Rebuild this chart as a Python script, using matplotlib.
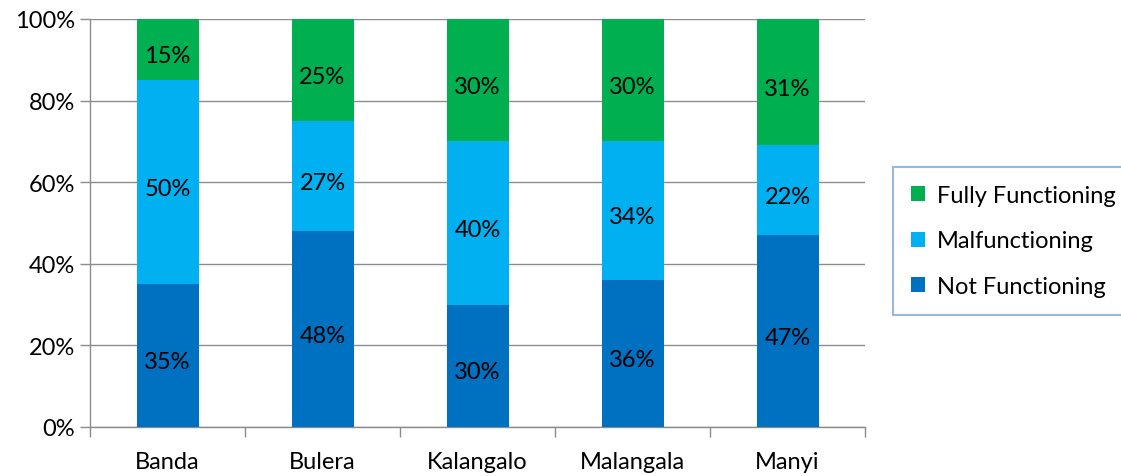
import matplotlib.pyplot as plt
import numpy as np

sites = ['Banda', 'Bulera', 'Kalangalo', 'Malangala', 'Manyi']
not_functioning = [35, 48, 30, 36, 47]
malfunctioning = [50, 27, 40, 34, 22]
fully_functioning = [15, 25, 30, 30, 31]

plt.rcParams['font.family'] = ['Lato', 'DejaVu Sans']
FS = 17

fig = plt.figure(figsize=(11.21, 4.77), dpi=100)
ax = fig.add_axes([90 / 1121, 1 - 428 / 477, 775 / 1121, 408 / 477])

x = np.arange(len(sites))
w = 0.4
series = [
    (not_functioning, '#0070C0', 'Not Functioning'),
    (malfunctioning, '#00B0F0', 'Malfunctioning'),
    (fully_functioning, '#00B050', 'Fully Functioning'),
]
bottom = np.zeros(len(sites))
bars = []
for vals, col, lab in series:
    vals = np.array(vals, dtype=float)
    b = ax.bar(x, vals, w, bottom=bottom, color=col, label=lab, zorder=3)
    bars.append(b)
    for xi, v, b0 in zip(x, vals, bottom):
        ax.text(xi, b0 + v / 2 - 1.5, f'{int(v)}%', ha='center', va='center',
                fontsize=FS, color='black', zorder=4)
    bottom += vals

ax.set_xlim(-0.5, len(sites) - 0.5)
ax.set_ylim(0, 100)
ax.set_yticks(np.arange(0, 101, 20))
ax.set_yticklabels([f'{v}%' for v in range(0, 101, 20)], fontsize=FS)
ax.yaxis.grid(True, color='#8c8c8c', linewidth=1, zorder=0)

# category labels centred, tick marks on the boundaries
ax.set_xticks(x)
ax.set_xticklabels(sites, fontsize=FS)
ax.tick_params(axis='x', length=0, pad=17)
ax.set_xticks(np.arange(-0.5, len(sites), 1), minor=True)
ax.tick_params(axis='x', which='minor', length=7, color='#8c8c8c', width=1)
ax.tick_params(axis='y', length=7, color='#8c8c8c', width=1, pad=4)

for s in ['top', 'right']:
    ax.spines[s].set_visible(False)
for s in ['left', 'bottom']:
    ax.spines[s].set_color('#8c8c8c')
    ax.spines[s].set_linewidth(1)

handles = [bars[2], bars[1], bars[0]]
labels = ['Fully Functioning', 'Malfunctioning', 'Not Functioning']
leg = fig.legend(handles, labels, loc='upper left',
                 bbox_to_anchor=(893 / 1121, 1 - 168 / 477),
                 fontsize=FS, frameon=True, fancybox=False, borderaxespad=0,
                 handlelength=0.6, handleheight=0.6, handletextpad=0.5,
                 labelspacing=1.05, borderpad=0.75)
leg.get_frame().set_edgecolor('#7FA6D6')
leg.get_frame().set_linewidth(1.5)

fig.savefig('out.png', dpi=100)
